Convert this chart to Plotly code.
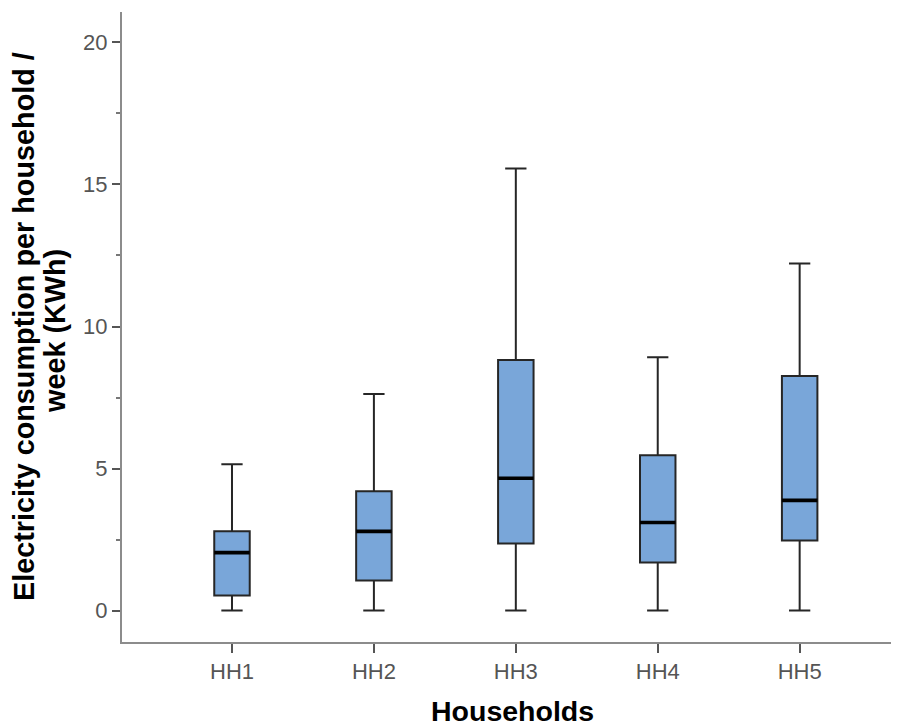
import plotly.graph_objects as go

households = ["HH1", "HH2", "HH3", "HH4", "HH5"]
lower = [0.0, 0.0, 0.0, 0.0, 0.0]
q1 = [0.53, 1.06, 2.36, 1.69, 2.47]
median = [2.04, 2.79, 4.66, 3.10, 3.88]
q3 = [2.79, 4.20, 8.82, 5.47, 8.26]
upper = [5.15, 7.62, 15.56, 8.92, 12.22]

y_ticks = [0, 5, 10, 15, 20]

x_title = "Households"
y_title_lines = ["Electricity consumption per household /", "week (KWh)"]

BOX_W = 0.25
FONT = "Liberation Sans, Arial, sans-serif"

fig = go.Figure()
fig.add_trace(go.Box(
    x=households, q1=q1, median=median, q3=q3,
    lowerfence=lower, upperfence=upper,
    width=BOX_W, whiskerwidth=0.6,
    fillcolor="#79A6D9",
    line=dict(color="#262626", width=2),
    boxpoints=False, showlegend=False, hoverinfo="skip",
))

# thicker median lines
for i, m in enumerate(median):
    fig.add_shape(type="line", xref="x", yref="y",
                  x0=i - BOX_W / 2, x1=i + BOX_W / 2, y0=m, y1=m,
                  line=dict(color="black", width=3.6))

# axis titles as annotations for precise placement
fig.add_annotation(text="<b>%s</b>" % y_title_lines[0], xref="paper", yref="paper",
                   x=0, y=0.5, xanchor="center", yanchor="middle", xshift=-98, yshift=0,
                   textangle=-90, showarrow=False, font=dict(size=28.8, color="black"))
fig.add_annotation(text="<b>%s</b>" % y_title_lines[1], xref="paper", yref="paper",
                   x=0, y=0.5, xanchor="center", yanchor="middle", xshift=-67, yshift=-4,
                   textangle=-90, showarrow=False, font=dict(size=28.8, color="black"))
fig.add_annotation(text="<b>%s</b>" % x_title, xref="paper", yref="paper",
                   x=0.503, y=0, xanchor="center", yanchor="middle", yshift=-69,
                   showarrow=False, font=dict(size=28.5, color="black"))

fig.update_layout(
    width=891, height=719,
    margin=dict(l=114, r=0, t=4, b=85),
    paper_bgcolor="white", plot_bgcolor="white",
    font=dict(family=FONT),
    xaxis=dict(
        range=[-0.775, 4.70],
        showline=True, linecolor="#8c8c8c", linewidth=2,
        ticks="outside", ticklen=9, tickwidth=1.5, tickcolor="#555",
        tickfont=dict(size=22, color="#555"),
        showgrid=False, zeroline=False,
    ),
    yaxis=dict(
        range=[-1.105, 21.07],
        tickvals=y_ticks,
        showline=True, linecolor="#8c8c8c", linewidth=2,
        ticks="outside", ticklen=8, tickwidth=1.5, tickcolor="#555",
        tickfont=dict(size=22, color="#555"),
        minor=dict(dtick=2.5, ticks="outside", ticklen=4, tickwidth=1.5, tickcolor="#777"),
        showgrid=False, zeroline=False,
    ),
)

fig.write_html("out.html")
